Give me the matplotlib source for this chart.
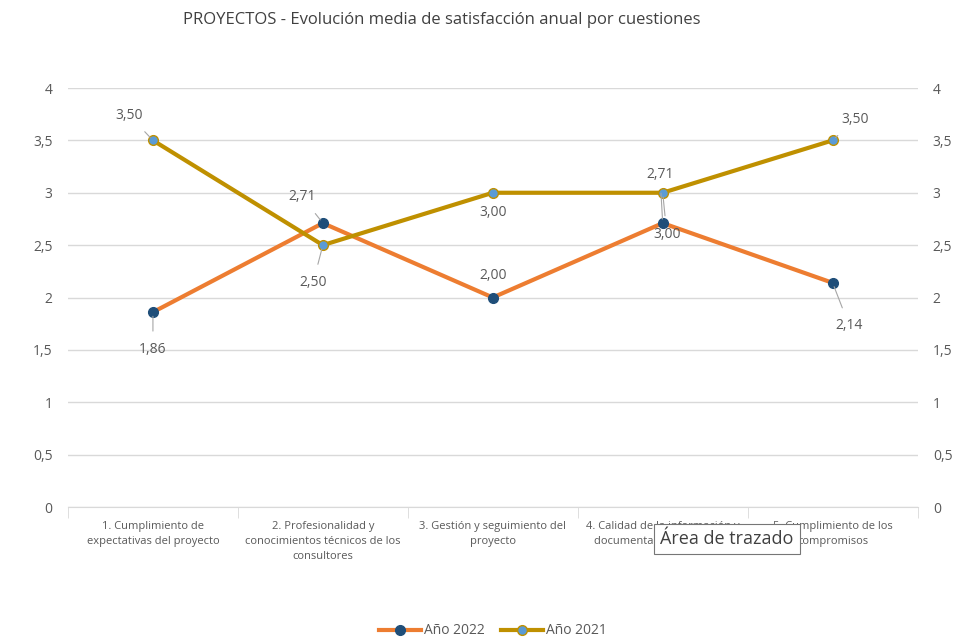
import matplotlib
matplotlib.use("Agg")
import matplotlib.pyplot as plt
from matplotlib.ticker import FixedLocator, FuncFormatter

plt.rcParams['font.family'] = ['Open Sans', 'DejaVu Sans']

CATEGORIES = [
    "1. Cumplimiento de\nexpectativas del proyecto",
    "2. Profesionalidad y\nconocimientos técnicos de los\nconsultores",
    "3. Gestión y seguimiento del\nproyecto",
    "4. Calidad de la información y\ndocumentación entregada",
    "5. Cumplimiento de los\ncompromisos",
]
Y2022 = [1.86, 2.71, 2.00, 2.71, 2.14]
Y2021 = [3.50, 2.50, 3.00, 3.00, 3.50]
# label offsets in points (dx, dy) for each point
OFF2022 = [(0, -27), (-15, 19), (0, 16), (-2, 35), (12, -31)]
OFF2021 = [(-17, 18), (-7, -27), (0, -14), (3, -30), (16, 15)]

GRAY = "#595959"
fig = plt.figure(figsize=(9.71, 6.4), dpi=100)
ax = fig.add_axes([0.070, 0.2078, 0.875, 0.6547])
x = list(range(len(CATEGORIES)))

ax.plot(x, Y2022, color="#ED7D31", lw=3, marker="o", ms=7,
        mfc="#1F4E79", mec="#1F4E79", label="Año 2022", zorder=3)
ax.plot(x, Y2021, color="#BF9000", lw=3, marker="o", ms=7,
        mfc="#5B9BD5", mec="#BF9000", mew=1, label="Año 2021", zorder=4)

def fmt(v):
    return f"{v:.2f}".replace(".", ",")

for ys, offs in ((Y2022, OFF2022), (Y2021, OFF2021)):
    for xi, yi, (dx, dy) in zip(x, ys, offs):
        arrow = dict(arrowstyle="-", color="#A6A6A6", lw=0.8, shrinkA=6, shrinkB=3)
        if abs(dx) < 2 and abs(dy) < 20:
            arrow = None
        ax.annotate(fmt(yi), (xi, yi), xytext=(dx, dy), textcoords="offset points",
                    ha="center", va="center", fontsize=10, color=GRAY,
                    arrowprops=arrow, zorder=5)

ax.set_xlim(-0.5, 4.5)
ax.set_ylim(0, 4)
ax.set_yticks([0, 0.5, 1, 1.5, 2, 2.5, 3, 3.5, 4])
ax.yaxis.set_major_formatter(FuncFormatter(lambda v, p: f"{v:g}".replace(".", ",")))
ax.grid(axis="y", color="#D9D9D9", lw=1)
ax.set_axisbelow(True)
for s in ("top", "left", "right"):
    ax.spines[s].set_visible(False)
ax.spines["bottom"].set_color("#D9D9D9")
ax.tick_params(axis="y", length=0, labelsize=10, labelcolor=GRAY, pad=11)
ax.set_xticks(x)
ax.set_xticklabels(CATEGORIES, fontsize=8, color=GRAY, linespacing=1.5)
ax.tick_params(axis="x", length=0, pad=10)
ax.xaxis.set_minor_locator(FixedLocator([-0.5, 0.5, 1.5, 2.5, 3.5, 4.5]))
ax.tick_params(axis="x", which="minor", length=8, color="#D9D9D9")

ax2 = ax.twinx()
ax2.set_ylim(0, 4)
ax2.set_yticks([0, 0.5, 1, 1.5, 2, 2.5, 3, 3.5, 4])
ax2.yaxis.set_major_formatter(FuncFormatter(lambda v, p: f"{v:g}".replace(".", ",")))
ax2.tick_params(axis="y", length=0, labelsize=10, labelcolor=GRAY, pad=11)
for s in ax2.spines.values():
    s.set_visible(False)

fig.text(442 / 971, 1 - 20 / 640, "PROYECTOS - Evolución media de satisfacción anual por cuestiones",
         ha="center", va="center", fontsize=12, color="#404040")

fig.legend(loc="center", bbox_to_anchor=(493 / 971, 1 - 631 / 640), ncol=2, frameon=False,
           fontsize=10, labelcolor=GRAY, handlelength=3, columnspacing=1.2, handletextpad=0.2)

# tooltip overlay visible in the reference screenshot
fig.text(727 / 971, 1 - 539 / 640, "Área de trazado", ha="center", va="center",
         fontsize=13, color="#404040", zorder=10,
         bbox=dict(boxstyle="square,pad=0.35", fc="white", ec="#767676", lw=0.8))

fig.savefig("out.png", dpi=100)
